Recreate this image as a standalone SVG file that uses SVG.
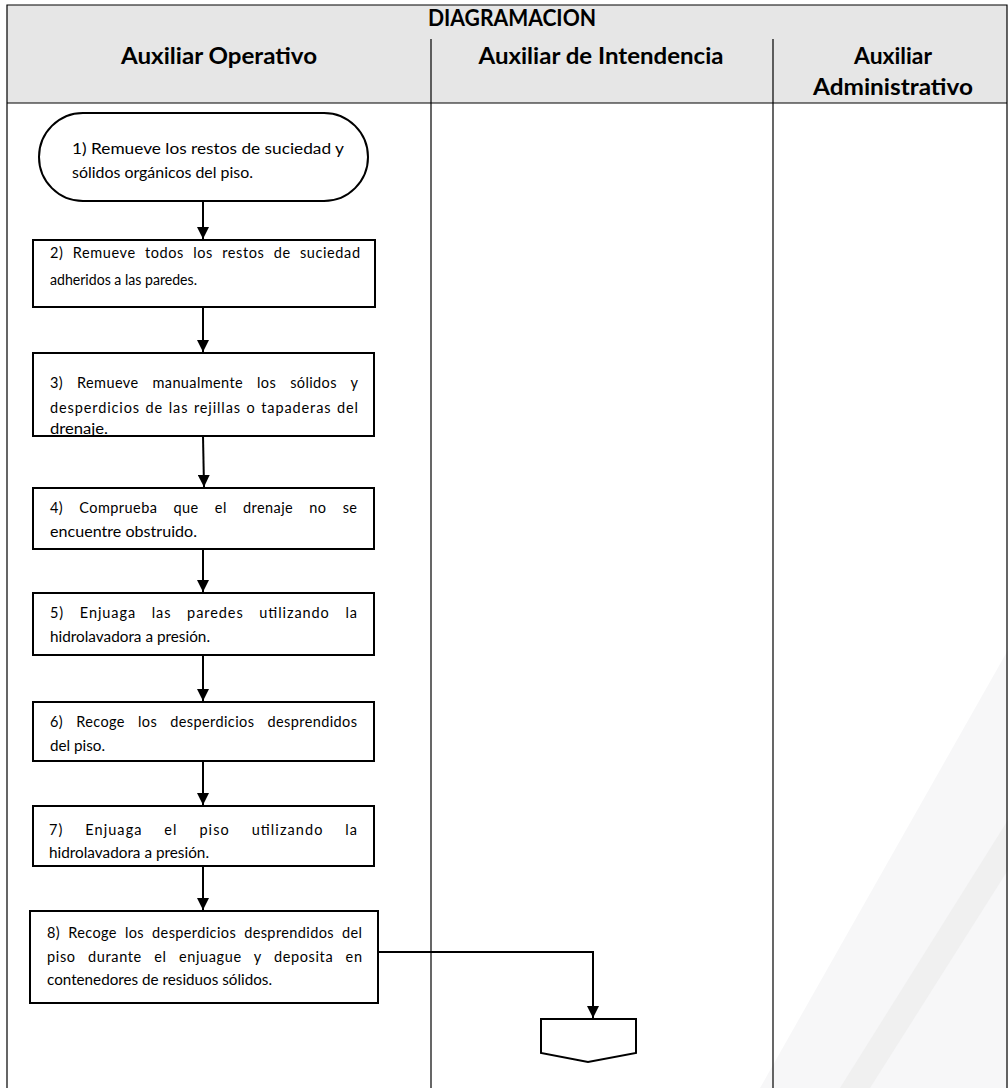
<svg xmlns="http://www.w3.org/2000/svg" width="1008" height="1088" viewBox="0 0 1008 1088">
<style>
.hdr{font-family:Lato,"Open Sans","Liberation Sans",sans-serif;font-weight:bold;font-size:22px;fill:#000;text-anchor:middle}
.t{font-family:Lato,"Open Sans","Liberation Sans",sans-serif;font-size:14.5px;fill:#000}
.box{fill:#fff;stroke:#000;stroke-width:2}
.lane{stroke:#000;stroke-width:1.2;fill:none}
.conn{stroke:#000;stroke-width:2;fill:none}
</style>
<defs>
<marker id="ah" viewBox="0 0 10 10" refX="10" refY="5" markerWidth="12" markerHeight="12" markerUnits="userSpaceOnUse" orient="auto">
<path d="M0,0 L10,5 L0,10 z" fill="#000"/>
</marker>
<clipPath id="c3"><rect x="33" y="353" width="341" height="83"/></clipPath>
</defs>
<rect width="1008" height="1088" fill="#fff"/>
<g id="watermark">
<polygon points="1008,650 760,1088 1008,1088" fill="#f7f7f8"/>
<polygon points="1008,820 840,1088 870,1088 1008,870" fill="#f0f0f0"/>
</g>
<g id="table">
<rect x="7" y="5" width="1000" height="98" fill="#e6e6e6"/>
<path class="lane" d="M7,1088 V5 H1007 V1088"/>
<line class="lane" x1="7" y1="103" x2="1007" y2="103"/>
<line class="lane" x1="431" y1="39" x2="431" y2="1088"/>
<line class="lane" x1="773" y1="39" x2="773" y2="1088"/>
<text class="hdr" x="512" y="26" textLength="168" lengthAdjust="spacingAndGlyphs">DIAGRAMACION</text>
<text class="hdr" x="219" y="64" textLength="196" lengthAdjust="spacingAndGlyphs">Auxiliar Operativo</text>
<text class="hdr" x="601" y="64" textLength="245" lengthAdjust="spacingAndGlyphs">Auxiliar de Intendencia</text>
<text class="hdr" x="893" y="64" textLength="78" lengthAdjust="spacingAndGlyphs">Auxiliar</text>
<text class="hdr" x="893" y="95" textLength="160" lengthAdjust="spacingAndGlyphs">Administrativo</text>
</g>
<g id="connectors">
<line class="conn" x1="203" y1="201" x2="203" y2="239" marker-end="url(#ah)"/>
<line class="conn" x1="203" y1="307" x2="203" y2="352" marker-end="url(#ah)"/>
<line class="conn" x1="203" y1="436" x2="204" y2="487" marker-end="url(#ah)"/>
<line class="conn" x1="203" y1="549" x2="203" y2="592" marker-end="url(#ah)"/>
<line class="conn" x1="203" y1="655" x2="203" y2="701" marker-end="url(#ah)"/>
<line class="conn" x1="203" y1="761" x2="203" y2="805" marker-end="url(#ah)"/>
<line class="conn" x1="203" y1="866" x2="203" y2="910" marker-end="url(#ah)"/>
<polyline class="conn" points="378,952 593,952 593,1018" marker-end="url(#ah)"/>
</g>
<g id="n1">
<rect class="box" x="39" y="113" width="329" height="88" rx="44" ry="44"/>
<text class="t" x="72" y="154" textLength="272" lengthAdjust="spacingAndGlyphs">1)  Remueve los restos de suciedad y</text>
<text class="t" x="72" y="178" textLength="181" lengthAdjust="spacingAndGlyphs">sólidos orgánicos del piso.</text>
</g>
<g id="n2">
<rect class="box" x="33" y="240" width="342" height="67" stroke-width="2.5"/>
<text class="t" x="50" y="258" word-spacing="5" textLength="310" lengthAdjust="spacing">2) Remueve todos los restos de suciedad</text>
<text class="t" x="50" y="285" textLength="147" lengthAdjust="spacingAndGlyphs">adheridos a las paredes.</text>
</g>
<g id="n3">
<rect class="box" x="33" y="353" width="341" height="83"/>
<text class="t" x="50" y="388" word-spacing="10" textLength="308" lengthAdjust="spacing">3) Remueve manualmente los sólidos y</text>
<text class="t" x="50" y="413" word-spacing="1" textLength="308" lengthAdjust="spacing">desperdicios de las rejillas o tapaderas del</text>
<text class="t" x="50" y="434" clip-path="url(#c3)" textLength="58" lengthAdjust="spacingAndGlyphs">drenaje.</text>
<rect x="33" y="353" width="341" height="83" fill="none" stroke="#000" stroke-width="2"/>
</g>
<g id="n4">
<rect class="box" x="33" y="488" width="341" height="61"/>
<text class="t" x="50" y="513" word-spacing="12" textLength="307" lengthAdjust="spacing">4) Comprueba que el drenaje no se</text>
<text class="t" x="50" y="537" textLength="147" lengthAdjust="spacingAndGlyphs">encuentre obstruido.</text>
</g>
<g id="n5">
<rect class="box" x="33" y="593" width="341" height="62"/>
<text class="t" x="50" y="618" word-spacing="11" textLength="307" lengthAdjust="spacing">5) Enjuaga las paredes utilizando la</text>
<text class="t" x="50" y="642" textLength="160" lengthAdjust="spacingAndGlyphs">hidrolavadora a presión.</text>
</g>
<g id="n6">
<rect class="box" x="33" y="702" width="341" height="59"/>
<text class="t" x="50" y="727" word-spacing="9" textLength="307" lengthAdjust="spacing">6) Recoge los desperdicios desprendidos</text>
<text class="t" x="50" y="751" textLength="55" lengthAdjust="spacingAndGlyphs">del piso.</text>
</g>
<g id="n7">
<rect class="box" x="33" y="806" width="341" height="60"/>
<text class="t" x="49" y="835" word-spacing="17" textLength="308" lengthAdjust="spacing">7) Enjuaga el piso utilizando la</text>
<text class="t" x="49" y="858" textLength="160" lengthAdjust="spacingAndGlyphs">hidrolavadora a presión.</text>
</g>
<g id="n8">
<rect class="box" x="30" y="911" width="348" height="92"/>
<text class="t" x="47" y="938" word-spacing="4" textLength="315" lengthAdjust="spacing">8) Recoge los desperdicios desprendidos del</text>
<text class="t" x="47" y="962" word-spacing="8" textLength="315" lengthAdjust="spacing">piso durante el enjuague y deposita en</text>
<text class="t" x="47" y="985" textLength="225" lengthAdjust="spacingAndGlyphs">contenedores de residuos sólidos.</text>
</g>
<g id="n9">
<polygon class="box" points="541,1019 636,1019 636,1053 588,1062 541,1053"/>
</g>
</svg>
